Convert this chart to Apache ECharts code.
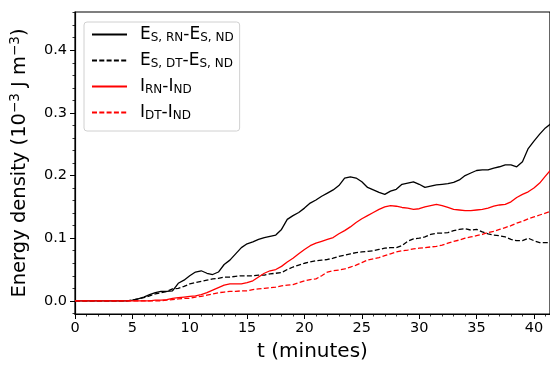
<!DOCTYPE html>
<html>
<head>
<meta charset="utf-8">
<script src="https://cdn.jsdelivr.net/npm/echarts@6/dist/echarts.min.js"></script>
<style>
  html, body {margin: 0; padding: 0; background: #fff;}
  #chart {width: 550px; height: 367px;}
</style>
</head>
<body>
<div id="chart"></div>
<script>
// time (minutes)
const times = [
  0, 4.5, 5, 5.5, 6, 6.5, 7, 7.5, 8, 8.5, 9, 9.5, 10, 10.5, 11, 11.5, 12, 12.5,
  13, 13.5, 14, 14.5, 15, 15.5, 16, 16.5, 17, 17.5, 18, 18.5, 19, 19.5, 20, 20.5,
  21, 21.5, 22, 22.5, 23, 23.5, 24, 24.5, 25, 25.5, 26, 26.5, 27, 27.5, 28, 28.5,
  29, 29.5, 30, 30.5, 31, 31.5, 32, 32.5, 33, 33.5, 34, 34.5, 35, 35.5, 36, 36.5,
  37, 37.5, 38, 38.5, 39, 39.5, 40, 40.5, 41, 41.5
];
// E_S,RN - E_S,ND
const esRn = [
  0, 0, 0.001, 0.003, 0.006, 0.010, 0.013, 0.015, 0.015, 0.016, 0.028, 0.033, 0.040, 0.046, 0.048, 0.044, 0.042, 0.046,
  0.058, 0.065, 0.075, 0.085, 0.091, 0.094, 0.098, 0.101, 0.103, 0.105, 0.114, 0.130, 0.136, 0.141, 0.148, 0.156,
  0.161, 0.167, 0.172, 0.177, 0.184, 0.196, 0.198, 0.196, 0.190, 0.181, 0.177, 0.173, 0.170, 0.175, 0.178, 0.186,
  0.188, 0.190, 0.186, 0.181, 0.183, 0.185, 0.186, 0.187, 0.189, 0.193, 0.200, 0.204, 0.208, 0.209, 0.209, 0.212,
  0.214, 0.217, 0.217, 0.214, 0.222, 0.243, 0.255, 0.266, 0.276, 0.283
];
// E_S,DT - E_S,ND
const esDt = [
  0, 0, 0.001, 0.003, 0.005, 0.008, 0.011, 0.013, 0.015, 0.019, 0.020, 0.023, 0.027, 0.029, 0.031, 0.033, 0.035, 0.036,
  0.038, 0.038, 0.039, 0.040, 0.040, 0.040, 0.041, 0.041, 0.043, 0.044, 0.045, 0.050, 0.054, 0.057, 0.060, 0.062,
  0.064, 0.065, 0.066, 0.068, 0.071, 0.073, 0.075, 0.077, 0.078, 0.079, 0.080, 0.082, 0.084, 0.085, 0.085, 0.088,
  0.095, 0.099, 0.100, 0.102, 0.106, 0.108, 0.108, 0.109, 0.112, 0.114, 0.115, 0.113, 0.114, 0.110, 0.107, 0.105,
  0.104, 0.102, 0.098, 0.096, 0.096, 0.100, 0.096, 0.093, 0.093, 0.093
];
// I_RN - I_ND
const iRn = [
  0, 0, 0, 0, 0, 0, 0.001, 0.001, 0.002, 0.004, 0.005, 0.006, 0.007, 0.008, 0.010, 0.013, 0.017, 0.021,
  0.025, 0.027, 0.027, 0.027, 0.029, 0.032, 0.038, 0.044, 0.048, 0.050, 0.055, 0.062, 0.068, 0.075, 0.082, 0.088,
  0.092, 0.095, 0.098, 0.101, 0.107, 0.112, 0.118, 0.125, 0.131, 0.136, 0.141, 0.146, 0.150, 0.152, 0.151, 0.149,
  0.148, 0.146, 0.147, 0.150, 0.152, 0.154, 0.152, 0.149, 0.146, 0.145, 0.144, 0.144, 0.145, 0.146, 0.148, 0.151,
  0.153, 0.154, 0.158, 0.165, 0.170, 0.174, 0.180, 0.188, 0.199, 0.210
];
// I_DT - I_ND
const iDt = [
  0, 0, 0, 0, 0, 0, 0, 0, 0.001, 0.002, 0.003, 0.004, 0.004, 0.006, 0.007, 0.009, 0.011, 0.013,
  0.014, 0.015, 0.015, 0.016, 0.016, 0.018, 0.019, 0.020, 0.021, 0.022, 0.024, 0.025, 0.026, 0.029, 0.032, 0.034,
  0.035, 0.040, 0.046, 0.048, 0.049, 0.051, 0.054, 0.057, 0.061, 0.065, 0.067, 0.069, 0.072, 0.075, 0.078, 0.080,
  0.081, 0.083, 0.084, 0.085, 0.086, 0.087, 0.089, 0.092, 0.095, 0.097, 0.100, 0.102, 0.104, 0.106, 0.109, 0.111,
  0.114, 0.117, 0.120, 0.124, 0.127, 0.131, 0.134, 0.137, 0.140, 0.143
];

const xMajor = [0, 5, 10, 15, 20, 25, 30, 35, 40];
const xMinor = [1, 2, 3, 4, 6, 7, 8, 9, 11, 12, 13, 14, 16, 17, 18, 19, 21, 22, 23, 24,
  26, 27, 28, 29, 31, 32, 33, 34, 36, 37, 38, 39, 41];
const yMajor = [0, 0.1, 0.2, 0.3, 0.4];
const yMinor = [-0.02, 0.02, 0.04, 0.06, 0.08, 0.12, 0.14, 0.16, 0.18, 0.22, 0.24, 0.26, 0.28,
  0.32, 0.34, 0.36, 0.38, 0.42, 0.44, 0.46];

const names = ['esRn', 'esDt', 'iRn', 'iDt'];
const labels = {
  esRn: '{m|E}{s|S, RN}{m|-E}{s|S, ND}',
  esDt: '{m|E}{s|S, DT}{m|-E}{s|S, ND}',
  iRn: '{m|I}{s|RN}{m|-I}{s|ND}',
  iDt: '{m|I}{s|DT}{m|-I}{s|ND}'
};

const font = 'DejaVu Sans';
const X_MIN = 0, X_MAX = 41.4, Y_MIN = -0.021, Y_MAX = 0.461;

const chart = echarts.init(document.getElementById('chart'), null, {renderer: 'canvas'});

const mkSeries = (name, data, color, dashed) => ({
  name,
  type: 'line',
  data: times.map((t, i) => [t, data[i]]),
  symbol: 'none',
  showSymbol: false,
  animation: false,
  color,
  lineStyle: {color, width: 1.3, type: dashed ? [5, 2.3] : 'solid'},
  z: 3
});

chart.setOption({
  animation: false,
  textStyle: {fontFamily: font},
  grid: {
    left: 75, right: 0, top: 12, bottom: 51,
    show: true, borderColor: '#000', borderWidth: 1.2,
    backgroundColor: 'transparent'
  },
  legend: {
    left: 84, top: 22,
    orient: 'vertical',
    data: names,
    itemWidth: 35, itemHeight: 14, itemGap: 8,
    padding: [4, 6, 9, 7],
    borderColor: '#d0d0d0', borderWidth: 1, borderRadius: 3,
    backgroundColor: 'rgba(255,255,255,0.8)',
    itemStyle: {opacity: 0},
    formatter: n => labels[n],
    textStyle: {
      color: '#000',
      rich: {
        m: {fontFamily: font, fontSize: 17, lineHeight: 19, color: '#000', verticalAlign: 'middle'},
        s: {fontFamily: font, fontSize: 12, lineHeight: 12, color: '#000', verticalAlign: 'bottom'}
      },
      padding: [0, 0, 0, 8]
    }
  },
  xAxis: [{
    type: 'value', min: X_MIN, max: X_MAX,
    name: 't (minutes)', nameLocation: 'middle', nameGap: 28,
    nameTextStyle: {fontFamily: font, fontSize: 20, color: '#000'},
    axisLine: {show: true, onZero: false, lineStyle: {color: '#000', width: 1.2}},
    axisTick: {show: true, inside: false, length: 5, customValues: xMajor, lineStyle: {color: '#000', width: 1}},
    axisLabel: {show: true, customValues: xMajor, margin: 7, fontFamily: font, fontSize: 14.5, color: '#000'},
    splitLine: {show: false}
  }, {
    type: 'value', min: X_MIN, max: X_MAX, position: 'bottom',
    axisLine: {show: false, onZero: false},
    axisTick: {show: true, inside: false, length: 2.5, customValues: xMinor, lineStyle: {color: '#000', width: 0.8}},
    axisLabel: {show: false},
    splitLine: {show: false}
  }],
  yAxis: [{
    type: 'value', min: Y_MIN, max: Y_MAX,
    name: '{n|Energy density (10}{p|\u22123}{n| J m}{p|\u22123}{n|)}',
    nameLocation: 'middle', nameGap: 43, nameRotate: 90,
    nameTextStyle: {
      color: '#000',
      rich: {
        n: {fontFamily: font, fontSize: 19.5, lineHeight: 24, color: '#000', verticalAlign: 'middle'},
        p: {fontFamily: font, fontSize: 13.5, lineHeight: 13, color: '#000', verticalAlign: 'top'}
      }
    },
    axisLine: {show: true, onZero: false, lineStyle: {color: '#000', width: 1.2}},
    axisTick: {show: true, inside: false, length: 5, customValues: yMajor, lineStyle: {color: '#000', width: 1}},
    axisLabel: {show: true, customValues: yMajor, margin: 8, fontFamily: font, fontSize: 14.5, color: '#000',
      formatter: v => v.toFixed(1)},
    splitLine: {show: false}
  }, {
    type: 'value', min: Y_MIN, max: Y_MAX, position: 'left',
    axisLine: {show: false, onZero: false},
    axisTick: {show: true, inside: false, length: 2.5, customValues: yMinor, lineStyle: {color: '#000', width: 0.8}},
    axisLabel: {show: false},
    splitLine: {show: false}
  }],
  series: [
    mkSeries('esRn', esRn, '#000000', false),
    mkSeries('esDt', esDt, '#000000', true),
    mkSeries('iRn', iRn, '#ff0000', false),
    mkSeries('iDt', iDt, '#ff0000', true)
  ]
});
</script>
</body>
</html>
